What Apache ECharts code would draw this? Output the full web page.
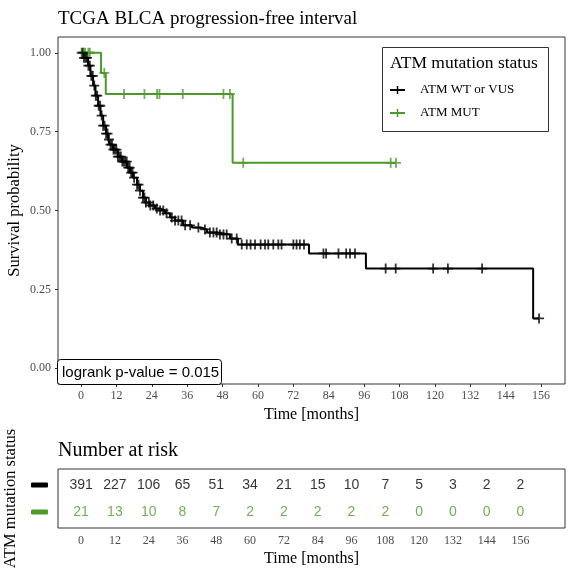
<!DOCTYPE html>
<html>
<head>
<meta charset="utf-8">
<script src="https://cdn.jsdelivr.net/npm/echarts@6/dist/echarts.min.js"></script>
<style>
  html, body { margin: 0; padding: 0; background: #fff; }
  #chart { width: 570px; height: 576px; }
</style>
</head>
<body>
<div id="chart"></div>
<script>
const timeTicks = [0, 12, 24, 36, 48, 60, 72, 84, 96, 108, 120, 132, 144, 156];
const survTicks = [0, 0.25, 0.5, 0.75, 1];

// ATM WT or VUS: KM steps (time in months, survival)
const wtTime = [0, 1.0, 2.4, 3.2, 4.1, 4.9, 5.8, 6.6, 7.5, 8.5, 9.2, 9.8, 10.9, 12.5, 13.9, 15.6, 16.6, 17.6, 19.0, 20.0, 21.0, 22.0, 23.4, 25.1, 26.8, 28.5, 30.2, 31.9, 34.6, 37.6, 40.4, 42.7, 46.1, 50.5, 53.2, 77.3, 96.6, 153.3, 155.3];
const wtSurv = [1, 0.984, 0.959, 0.927, 0.896, 0.864, 0.832, 0.801, 0.769, 0.744, 0.725, 0.709, 0.693, 0.671, 0.655, 0.636, 0.620, 0.604, 0.582, 0.563, 0.541, 0.525, 0.516, 0.506, 0.500, 0.491, 0.478, 0.468, 0.453, 0.446, 0.440, 0.430, 0.424, 0.411, 0.392, 0.364, 0.316, 0.158, 0.158];
const wtCensor = [0.5, 1, 1.5, 2, 2.5, 3, 3.5, 4, 4.5, 5, 5.5, 6, 6.5, 7, 7.5, 8, 8.5, 9, 9.5, 10, 10.5, 11, 11.5, 12, 12.5, 13, 13.5, 14, 14.5, 15, 15.5, 16, 16.5, 17, 17.5, 18, 19, 19.5, 20, 21, 21.5, 22, 23, 23.5,
  24.5, 25.7, 26.8, 27.9, 29.0, 30.8, 31.9, 33.0, 34.1, 35.3, 37.0, 39.8, 42.0, 43.7, 44.9, 46.0, 47.1, 48.3, 49.4, 51.1, 52.8, 54.5,
  56.2, 57.5, 59.0, 60.9, 62.4, 63.5, 65.2, 66.9, 68.0, 72.0, 73.1, 74.2, 75.6, 82.2, 83.1, 87.3, 89.9, 91.2, 92.9, 103.3, 106.7, 119.4, 124.4, 136.0, 155.3];

// ATM MUT
const mutTime = [0, 6.8, 8.4, 51.4, 106.8];
const mutSurv = [1, 0.936, 0.869, 0.651, 0.651];
const mutCensor = [0.2, 1.0, 1.4, 2.5, 3.0, 7.9, 14.6, 21.5, 25.8, 26.6, 34.5, 48.3, 50.5, 55.0, 105.0, 106.8];

// number at risk
const riskWt = [391, 227, 106, 65, 51, 34, 21, 15, 10, 7, 5, 3, 2, 2];
const riskMut = [21, 13, 10, 8, 7, 2, 2, 2, 2, 2, 0, 0, 0, 0];

const BLACK = '#000000';
const GREEN = '#4d9a2b';
const SERIF = 'Liberation Serif';
const SANS = 'Liberation Sans';
const CROSS = 'path://M4.1,0H5.9V4.1H10V5.9H5.9V10H4.1V5.9H0V4.1H4.1Z';

function stepAt(times, surv, t) {
  let s = surv[0];
  for (let i = 0; i < times.length; i++) {
    if (times[i] <= t) s = surv[i];
  }
  return s;
}
const zip = (a, b) => a.map((v, i) => [v, b[i]]);

const chart = echarts.init(document.getElementById('chart'));

const option = {
  backgroundColor: '#fff',
  animation: false,
  title: [
    { text: 'TCGA BLCA progression-free interval', left: 53, top: 5,
      textStyle: { fontFamily: SERIF, fontSize: 19, fontWeight: 'normal', color: '#000' } },
    { text: 'Number at risk', left: 53, top: 436,
      textStyle: { fontFamily: SERIF, fontSize: 20, fontWeight: 'normal', color: '#000' } }
  ],
  grid: [
    { left: 58, top: 37, width: 507, height: 347, outerBoundsMode: 'none', containLabel: false,
      show: true, borderColor: '#333', borderWidth: 1, backgroundColor: '#fff' },
    { left: 58, top: 469, width: 507, height: 59, outerBoundsMode: 'none', containLabel: false,
      show: true, borderColor: '#333', borderWidth: 1, backgroundColor: '#fff' }
  ],
  xAxis: [
    {
      gridIndex: 0, type: 'value', min: -7.8, max: 164.1,
      name: 'Time [months]', nameLocation: 'middle', nameGap: 21,
      nameTextStyle: { fontFamily: SERIF, fontSize: 16, color: '#000' },
      axisLine: { show: false, onZero: false },
      splitLine: { show: false },
      axisTick: { show: true, customValues: timeTicks, length: 3, lineStyle: { color: '#333' } },
      axisLabel: { customValues: timeTicks, margin: 6, fontFamily: SERIF, fontSize: 12, color: '#4d4d4d' }
    },
    {
      gridIndex: 1, type: 'value', min: -8.2, max: 171.8,
      name: 'Time [months]', nameLocation: 'middle', nameGap: 23,
      nameTextStyle: { fontFamily: SERIF, fontSize: 16, color: '#000' },
      axisLine: { show: false, onZero: false },
      splitLine: { show: false },
      axisTick: { show: false },
      axisLabel: { customValues: timeTicks, margin: 7, fontFamily: SERIF, fontSize: 12, color: '#4d4d4d' }
    }
  ],
  yAxis: [
    {
      gridIndex: 0, type: 'value', min: -0.05, max: 1.05,
      name: 'Survival probability', nameLocation: 'middle', nameGap: 35, nameMoveOverlap: false,
      nameTextStyle: { fontFamily: SERIF, fontSize: 16.5, color: '#000' },
      axisLine: { show: false, onZero: false },
      splitLine: { show: false },
      axisTick: { show: true, customValues: survTicks, length: 3, lineStyle: { color: '#333' } },
      axisLabel: { customValues: survTicks, margin: 7, fontFamily: SERIF, fontSize: 12, color: '#4d4d4d',
        formatter: v => v.toFixed(2) }
    },
    {
      gridIndex: 1, type: 'value', min: 0.4, max: 2.6, inverse: true,
      name: 'ATM mutation status', nameLocation: 'middle', nameGap: 39, nameMoveOverlap: false,
      nameTextStyle: { fontFamily: SERIF, fontSize: 16.5, color: '#000' },
      axisLine: { show: false, onZero: false },
      splitLine: { show: false },
      axisTick: { show: false },
      axisLabel: {
        customValues: [1, 2], margin: 10,
        formatter: v => (v === 1 ? '{a|}' : '{b|}'),
        rich: {
          a: { width: 17, height: 5, backgroundColor: BLACK, borderRadius: 1 },
          b: { width: 17, height: 5, backgroundColor: GREEN, borderRadius: 1 }
        }
      }
    }
  ],
  series: [
    {
      name: 'ATM WT or VUS', type: 'line', xAxisIndex: 0, yAxisIndex: 0,
      step: 'end', showSymbol: false, data: zip(wtTime, wtSurv),
      lineStyle: { color: BLACK, width: 2 }, z: 3
    },
    {
      name: 'ATM MUT', type: 'line', xAxisIndex: 0, yAxisIndex: 0,
      step: 'end', showSymbol: false, data: zip(mutTime, mutSurv),
      lineStyle: { color: GREEN, width: 2 }, z: 2
    },
    {
      type: 'scatter', xAxisIndex: 0, yAxisIndex: 0, symbol: CROSS, symbolSize: 10,
      data: wtCensor.map(t => [t, stepAt(wtTime, wtSurv, t)]),
      itemStyle: { color: BLACK }, z: 4
    },
    {
      type: 'scatter', xAxisIndex: 0, yAxisIndex: 0, symbol: CROSS, symbolSize: 10,
      data: mutCensor.map(t => [t, stepAt(mutTime, mutSurv, t)]),
      itemStyle: { color: GREEN }, z: 3
    },
    {
      type: 'scatter', xAxisIndex: 1, yAxisIndex: 1, symbolSize: 0,
      data: timeTicks.map((t, i) => [t, 1, riskWt[i]]),
      label: { show: true, position: 'inside', formatter: p => p.value[2],
        fontFamily: SANS, fontSize: 14, color: BLACK }
    },
    {
      type: 'scatter', xAxisIndex: 1, yAxisIndex: 1, symbolSize: 0,
      data: timeTicks.map((t, i) => [t, 2, riskMut[i]]),
      label: { show: true, position: 'inside', formatter: p => p.value[2],
        fontFamily: SANS, fontSize: 14, color: GREEN }
    }
  ],
  graphic: [
    // legend
    { type: 'rect', shape: { x: 382.5, y: 47.5, width: 166, height: 84 },
      style: { fill: '#fff', stroke: '#333', lineWidth: 1 }, z: 10 },
    { type: 'text', x: 390, y: 63, z: 11,
      style: { text: 'ATM mutation status', fontFamily: SERIF, fontSize: 17.5, fill: '#000', verticalAlign: 'middle' } },
    { type: 'line', shape: { x1: 390, y1: 90, x2: 405, y2: 90 }, style: { stroke: BLACK, lineWidth: 2 }, z: 11 },
    { type: 'line', shape: { x1: 397.5, y1: 86, x2: 397.5, y2: 94 }, style: { stroke: BLACK, lineWidth: 1.5 }, z: 11 },
    { type: 'text', x: 420, y: 90, z: 11,
      style: { text: 'ATM WT or VUS', fontFamily: SERIF, fontSize: 13, fill: '#000', verticalAlign: 'middle' } },
    { type: 'line', shape: { x1: 390, y1: 113, x2: 405, y2: 113 }, style: { stroke: GREEN, lineWidth: 2 }, z: 11 },
    { type: 'line', shape: { x1: 397.5, y1: 109, x2: 397.5, y2: 117 }, style: { stroke: GREEN, lineWidth: 1.5 }, z: 11 },
    { type: 'text', x: 420, y: 113, z: 11,
      style: { text: 'ATM MUT', fontFamily: SERIF, fontSize: 13, fill: '#000', verticalAlign: 'middle' } },
    // p-value label
    { type: 'rect', shape: { x: 57.5, y: 359.5, width: 164, height: 25, r: 3 },
      style: { fill: '#fff', stroke: '#000', lineWidth: 1 }, z: 10 },
    { type: 'text', x: 62, y: 372.5, z: 11,
      style: { text: 'logrank p-value = 0.015', fontFamily: SANS, fontSize: 15, fill: '#000', verticalAlign: 'middle' } }
  ]
};

chart.setOption(option);
</script>
</body>
</html>
